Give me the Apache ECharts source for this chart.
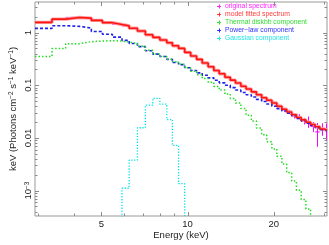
<!DOCTYPE html>
<html><head><meta charset="utf-8">
<script src="https://cdn.jsdelivr.net/npm/echarts@6/dist/echarts.min.js"></script>
<style>html,body{margin:0;padding:0;background:#fff}#c{width:329px;height:245px}</style>
</head><body><div id="c"></div>
<script>
// Energy bin edges (keV)
const binEdges = [2.93,3.36,3.75,4.19,4.61,5.04,5.46,5.9,6.25,6.68,7.12,7.56,8.0,8.46,8.85,9.3,9.77,10.25,10.75,11.25,11.8,12.35,12.9,13.5,14.1,14.7,15.35,16.0,16.7,17.4,18.15,18.9,19.7,20.5,21.35,22.2,23.1,24.0,24.95,25.9,26.9,27.9,28.95,30.0,30.7];
// model fitted spectrum
const redModel = [1.56,1.80,1.93,1.88,1.70,1.54,1.42,1.34,1.21,1.07,0.91,0.81,0.72,0.64,0.56,0.50,0.42,0.36,0.31,0.265,0.225,0.19,0.165,0.142,0.125,0.110,0.096,0.085,0.075,0.066,0.058,0.052,0.046,0.040,0.035,0.031,0.0275,0.0245,0.022,0.0198,0.018,0.0163,0.0148,0.014];
// power-law component
const bluePowerLaw = [1.20,1.35,1.31,1.22,1.05,0.93,0.82,0.71,0.62,0.54,0.45,0.39,0.35,0.31,0.27,0.246,0.215,0.19,0.172,0.155,0.138,0.124,0.111,0.100,0.090,0.081,0.073,0.066,0.060,0.054,0.049,0.044,0.040,0.036,0.0325,0.0295,0.0265,0.0235,0.021,0.019,0.0172,0.0157,0.0143,0.0136];
// thermal diskbb component
const greenDiskbb = [0.353,0.497,0.616,0.671,0.69,0.70,0.69,0.66,0.62,0.55,0.46,0.39,0.35,0.31,0.28,0.25,0.215,0.185,0.158,0.135,0.114,0.095,0.081,0.068,0.056,0.046,0.036,0.027,0.021,0.0155,0.0115,0.0085,0.0062,0.0045,0.0032,0.0022,0.00152,0.00102,0.00068,0.00045,0.00029,0.00018,0.00011,0.00007];
// gaussian component
const cyanGauss = [null,null,null,null,null,null,0.00015,0.00111,0.0038,0.0156,0.042,0.0565,0.0437,0.0223,0.0072,0.00136,0.0001,null,null,null,null,null,null,null,null,null,null,null,null,null,null,null,null,null,null,null,null,null,null,null,null,null,null,null];
// original spectrum (data and 1-sigma errors)
const magData = [1.57,1.79,1.94,1.87,1.71,1.53,1.43,1.33,1.22,1.06,0.90,0.82,0.71,0.65,0.555,0.49,0.425,0.355,0.312,0.262,0.228,0.188,0.167,0.140,0.127,0.109,0.097,0.084,0.076,0.065,0.059,0.051,0.047,0.041,0.034,0.032,0.026,0.0255,0.021,0.0205,0.0165,0.0130,0.0150,0.0138];
const magErr = [0.02,0.02,0.02,0.02,0.02,0.02,0.02,0.02,0.015,0.013,0.012,0.011,0.01,0.009,0.008,0.007,0.006,0.005,0.0045,0.004,0.0035,0.003,0.0028,0.0025,0.0022,0.002,0.0019,0.0018,0.0017,0.0016,0.0015,0.0015,0.0016,0.0018,0.002,0.0022,0.0025,0.0028,0.003,0.005,0.0035,0.0062,0.004,0.005];
// ticks
const xMajorTicks = [5,10,20];
const xTickLabels = ['5','10','20'];
const xMinorTicks = [3,4,6,7,8,9,30];
const yMajorTicks = [0.001,0.01,0.1,1];
const yTickLabels = ['10{sup|−3}','0.01','0.1','1'];
const yMinorTicks = [4e-4,5e-4,6e-4,7e-4,8e-4,9e-4,2e-3,3e-3,4e-3,5e-3,6e-3,7e-3,8e-3,9e-3,0.02,0.03,0.04,0.05,0.06,0.07,0.08,0.09,0.2,0.3,0.4,0.5,0.6,0.7,0.8,0.9,2,3];
const legendNames = ['original spectrum','model fitted spectrum','Thermal diskbb component','Power−law component','Gaussian component'];
const legendColors = ['#ff22ff', '#ff3a3a', '#33dd33', '#3030ff', '#22e5e5'];

const FONT = '"Liberation Sans", Arial, sans-serif';
const X_MIN = 2.93, X_MAX = 30.7, Y_MIN = 3.3e-4, Y_MAX = 3.8;

function stepData(vals) {
  const out = [];
  for (let i = 0; i < vals.length; i++) {
    const v = vals[i];
    if (v == null) { out.push([binEdges[i], null]); continue; }
    out.push([binEdges[i], v]);
    if (i === vals.length - 1 || vals[i + 1] == null) out.push([binEdges[i + 1], v]);
  }
  return out;
}

function tickSeries(vals, isX, len, labels) {
  return {
    type: 'custom', silent: true, clip: false, z: 5, animation: false,
    data: vals.map((v, i) => isX ? [v, 1, i] : [3, v, i]),
    renderItem(params, api) {
      const cs = params.coordSys;
      const p = api.coord([api.value(0), api.value(1)]);
      const st = { stroke: '#8a8a8a', lineWidth: 1 };
      const ch = [];
      if (isX) {
        const x = Math.round(p[0]) + 0.5;
        const yb = cs.y + cs.height, yt = cs.y;
        ch.push({ type: 'line', shape: { x1: x, y1: yb, x2: x, y2: yb - len }, style: st });
        ch.push({ type: 'line', shape: { x1: x, y1: yt, x2: x, y2: yt + len }, style: st });
        if (labels) ch.push({ type: 'text', style: { text: labels[api.value(2)], x: p[0], y: yb + 3,
          align: 'center', verticalAlign: 'top', textAlign: 'center', textVerticalAlign: 'top',
          fontSize: 9.5, fontFamily: FONT, fill: '#222' } });
      } else {
        const y = Math.round(p[1]) + 0.5;
        const xl = cs.x, xr = cs.x + cs.width;
        ch.push({ type: 'line', shape: { x1: xl, y1: y, x2: xl + len, y2: y }, style: st });
        ch.push({ type: 'line', shape: { x1: xr, y1: y, x2: xr - len, y2: y }, style: st });
        if (labels) ch.push({ type: 'text', x: xl - 1.5, y: p[1], rotation: Math.PI / 2,
          style: { text: labels[api.value(2)], x: 0, y: 0,
          align: 'center', verticalAlign: 'bottom', textAlign: 'center', textVerticalAlign: 'bottom',
          fontSize: 9.5, fontFamily: FONT, fill: '#222',
          rich: { sup: { fontSize: 6.5, fontFamily: FONT, verticalAlign: 'top', fill: '#222' } } } });
      }
      return { type: 'group', children: ch };
    }
  };
}

// legend block
const legendChildren = [];
legendNames.forEach((n, i) => {
  const cy = 6 + i * 8;
  const c = legendColors[i];
  legendChildren.push({ type: 'line', shape: { x1: 217, y1: cy + 0.5, x2: 221, y2: cy + 0.5 }, style: { stroke: c, lineWidth: 1 } });
  legendChildren.push({ type: 'line', shape: { x1: 219.5, y1: cy - 1.5, x2: 219.5, y2: cy + 2.5 }, style: { stroke: c, lineWidth: 1 } });
  legendChildren.push({ type: 'text', x: 225, y: cy + 0.5,
    style: { text: n, fontSize: 6.8, fontFamily: FONT, fill: c, align: 'left', verticalAlign: 'middle', textAlign: 'left', textVerticalAlign: 'middle' } });
});

const chart = echarts.init(document.getElementById('c'), null, { renderer: 'canvas' });
chart.setOption({
  animation: false,
  backgroundColor: '#fff',
  grid: { left: 32, right: 2, top: 2, bottom: 25, show: true, borderColor: '#999', borderWidth: 1, backgroundColor: 'transparent' },
  graphic: [{ type: 'group', z: 100, silent: true, children: legendChildren }],
  xAxis: {
    type: 'log', logBase: 10, min: X_MIN, max: X_MAX,
    axisLine: { show: false }, axisTick: { show: false }, axisLabel: { show: false }, splitLine: { show: false }, minorTick: { show: false },
    name: 'Energy (keV)', nameLocation: 'middle', nameGap: 14,
    nameTextStyle: { fontSize: 9.5, fontFamily: FONT, color: '#222' }
  },
  yAxis: {
    type: 'log', logBase: 10, min: Y_MIN, max: Y_MAX,
    axisLine: { show: false }, axisTick: { show: false }, axisLabel: { show: false }, splitLine: { show: false }, minorTick: { show: false },
    name: 'keV (Photons cm{sup|−2} s{sup|−1} keV{sup|−1})', nameLocation: 'middle', nameGap: 17, nameRotate: 90,
    nameTextStyle: { fontSize: 9.5, fontFamily: FONT, color: '#222',
      rich: { sup: { fontSize: 6.5, fontFamily: FONT, color: '#222', verticalAlign: 'top' } } }
  },
  series: [
    { name: '_halo', type: 'line', step: 'end', showSymbol: false, symbol: 'none', silent: true,
      data: stepData(redModel), lineStyle: { color: '#ffa0a0', width: 3.4 }, itemStyle: { color: '#ffa0a0' } },
    { name: 'original spectrum', type: 'custom', clip: true, silent: true,
      itemStyle: { color: '#ff00ff' },
      data: magData.map((v, i) => [binEdges[i], binEdges[i + 1], v, magErr[i]]),
      encode: { x: [0, 1], y: 2 },
      renderItem(params, api) {
        const v = api.value(2), e = api.value(3);
        const a = api.coord([api.value(0), v]);
        const b = api.coord([api.value(1), v]);
        const xc = Math.round((a[0] + b[0]) / 2) + 0.5;
        const top = api.coord([api.value(0), v + e])[1];
        const bot = api.coord([api.value(0), Math.max(v - e, v * 0.05)])[1];
        const st = { stroke: '#ff00ff', lineWidth: 1 };
        return { type: 'group', children: [
          { type: 'line', shape: { x1: a[0], y1: a[1], x2: b[0], y2: b[1] }, style: st },
          { type: 'line', shape: { x1: xc, y1: top, x2: xc, y2: bot }, style: st }
        ] };
      } },
    { name: 'Power−law component', type: 'line', step: 'end', showSymbol: false, symbol: 'none',
      data: stepData(bluePowerLaw), lineStyle: { color: '#2020ee', width: 1.6, type: [3, 2] }, itemStyle: { color: '#2020ff' } },
    { name: 'Thermal diskbb component', type: 'line', step: 'end', showSymbol: false, symbol: 'none',
      data: stepData(greenDiskbb), lineStyle: { color: '#22dd22', width: 1.5, type: [1.5, 2] }, itemStyle: { color: '#22dd22' } },
    { name: 'Gaussian component', type: 'line', step: 'end', showSymbol: false, symbol: 'none', connectNulls: false,
      data: stepData(cyanGauss), lineStyle: { color: '#00e5e5', width: 1.3, type: [1.3, 1.6] }, itemStyle: { color: '#00e5e5' } },
    { name: 'model fitted spectrum', type: 'line', step: 'end', showSymbol: false, symbol: 'none',
      data: stepData(redModel), lineStyle: { color: '#ff1414', width: 1.6 }, itemStyle: { color: '#ff2a2a' } },
    tickSeries(xMajorTicks, true, 4, xTickLabels),
    tickSeries(xMinorTicks, true, 2.5, null),
    tickSeries(yMajorTicks, false, 4, yTickLabels),
    tickSeries(yMinorTicks, false, 2.5, null)
  ]
});
</script>
</body></html>
